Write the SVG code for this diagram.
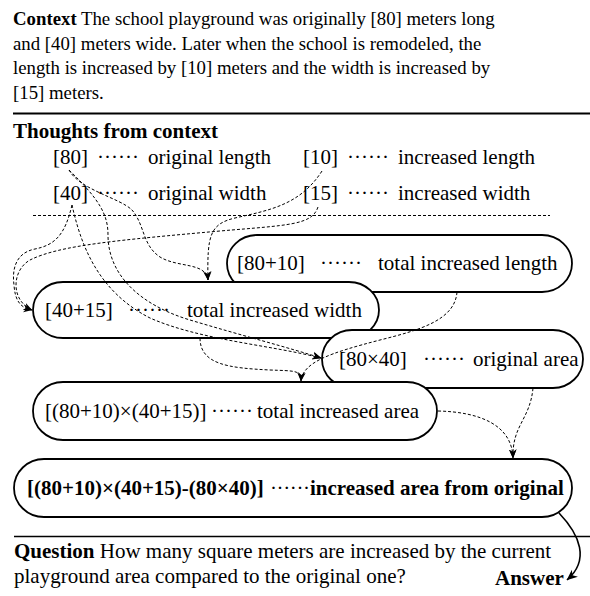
<svg xmlns="http://www.w3.org/2000/svg" width="590" height="596" viewBox="0 0 590 596">
<defs>
<marker id="ah" viewBox="0 0 10 10" refX="9.5" refY="5" markerWidth="9" markerHeight="9" markerUnits="userSpaceOnUse" orient="auto"><path d="M0,0.8 L10,5 L0,9.2 L3,5 Z" fill="#000"/></marker>
<marker id="ahs" viewBox="0 0 10 10" refX="9.5" refY="5" markerWidth="11" markerHeight="11" markerUnits="userSpaceOnUse" orient="auto"><path d="M0,0.8 L10,5 L0,9.2 L3,5 Z" fill="#000"/></marker>
</defs>
<style>
text{font-family:"Liberation Serif","Times New Roman",serif;fill:#000}
.ctx{font-size:18.8px}
.t{font-size:21px}
.b{font-weight:bold}
.dots{font-size:21px}
.node rect{fill:#fff;stroke:#000;stroke-width:1.8}
.conn path{fill:none;stroke:#000;stroke-width:1;stroke-dasharray:3 2}
.rule{stroke:#000}
</style>
<rect x="0" y="0" width="590" height="596" fill="#fff"/>

<g id="context">
<text class="ctx" x="13" y="25"><tspan class="b">Context</tspan> The school playground was originally [80] meters long</text>
<text class="ctx" x="13" y="49.5">and [40] meters wide. Later when the school is remodeled, the</text>
<text class="ctx" x="13" y="74">length is increased by [10] meters and the width is increased by</text>
<text class="ctx" x="13" y="98.5">[15] meters.</text>
</g>
<line class="rule" x1="13" y1="113.5" x2="590" y2="113.5" stroke-width="2.2"/>

<text class="t b" x="13" y="138">Thoughts from context</text>
<g id="t80"><text class="t" x="53" y="164">[80]</text><text class="dots" x="97" y="164" textLength="42" lengthAdjust="spacing">······</text><text class="t" x="148" y="164">original length</text></g>
<g id="t10"><text class="t" x="303" y="164">[10]</text><text class="dots" x="347" y="164" textLength="42" lengthAdjust="spacing">······</text><text class="t" x="398" y="164">increased length</text></g>
<g id="t40"><text class="t" x="53" y="200">[40]</text><text class="dots" x="97" y="200" textLength="42" lengthAdjust="spacing">······</text><text class="t" x="148" y="200">original width</text></g>
<g id="t15"><text class="t" x="303" y="200">[15]</text><text class="dots" x="347" y="200" textLength="42" lengthAdjust="spacing">······</text><text class="t" x="398" y="200">increased width</text></g>
<line x1="33" y1="215.5" x2="550" y2="215.5" stroke="#000" stroke-width="1" stroke-dasharray="3 2"/>

<g id="n8010" class="node"><rect x="227" y="235" width="345" height="57" rx="30" ry="28.5"/>
<text class="t" x="237" y="270">[80+10]</text><text class="dots" x="320" y="270" textLength="42" lengthAdjust="spacing">······</text><text class="t" x="378" y="270">total increased length</text></g>
<g id="n4015" class="node"><rect x="33" y="282" width="346" height="56" rx="30" ry="28"/>
<text class="t" x="45" y="317">[40+15]</text><text class="dots" x="128" y="317" textLength="42" lengthAdjust="spacing">······</text><text class="t" x="187" y="317">total increased width</text></g>
<g id="n8040" class="node"><rect x="322" y="330" width="261" height="58" rx="30" ry="29"/>
<text class="t" x="339" y="366">[80×40]</text><text class="dots" x="423" y="366" textLength="42" lengthAdjust="spacing">······</text><text class="t" x="473" y="366">original area</text></g>
<g id="ntotal" class="node"><rect x="33" y="382" width="404" height="58" rx="30" ry="29"/>
<text class="t" x="45" y="418">[(80+10)×(40+15)]</text><text class="dots" x="211" y="418" textLength="42" lengthAdjust="spacing">······</text><text class="t" x="257" y="418">total increased area</text></g>
<g id="nfinal" class="node"><rect x="14" y="459" width="558" height="58" rx="30" ry="29"/>
<text class="t b" x="27" y="495">[(80+10)×(40+15)-(80×40)]</text><text class="dots" x="270" y="495" textLength="40" lengthAdjust="spacing">······</text><text class="t b" x="310" y="495">increased area from original</text></g>

<g id="connectors" class="conn">
<path d="M69,170 C80,190 120,198 132,210 C145,225 142,245 160,257 C178,268 206,262 208,280" marker-end="url(#ah)"/>
<path d="M322,171 C300,205 270,210 235,218 C210,224 207,235 208,280" marker-end="url(#ah)"/>
<path d="M72,205 C65,235 55,245 35,249 C15,253 12,270 14,285 C15,300 20,308 32,310" marker-end="url(#ah)"/>
<path d="M318,207 C312,225 290,225 220,231 C120,240 60,245 30,260 C12,270 10,300 32,310" marker-end="url(#ah)"/>
<path d="M69,170 C100,200 108,215 108,235 C108,275 140,305 190,320 C240,335 290,348 321,358" marker-end="url(#ah)"/>
<path d="M72,205 C80,240 95,290 150,318 C200,340 270,345 321,358" marker-end="url(#ah)"/>
<path d="M200,338 C200,365 230,368 270,370 C295,371 301,370 301,381" marker-end="url(#ah)"/>
<path d="M457,292 C455,320 420,330 380,340 C330,353 303,362 301,381" marker-end="url(#ah)"/>
<path d="M533,388 C530,420 512,425 513,458" marker-end="url(#ah)"/>
<path d="M438,411 C480,412 512,425 513,458" marker-end="url(#ah)"/>
<path d="M559,513 C580,535 590,560 567,580" style="stroke-dasharray:none;stroke-width:1.6" marker-end="url(#ahs)"/>
</g>

<line class="rule" x1="14" y1="536.5" x2="590" y2="536.5" stroke-width="1.6"/>
<g id="question">
<text class="t" x="14" y="558"><tspan class="b">Question</tspan> How many square meters are increased by the current</text>
<text class="t" x="14" y="583">playground area compared to the original one?</text>
</g>
<text class="t b" x="495" y="585">Answer</text>
</svg>
